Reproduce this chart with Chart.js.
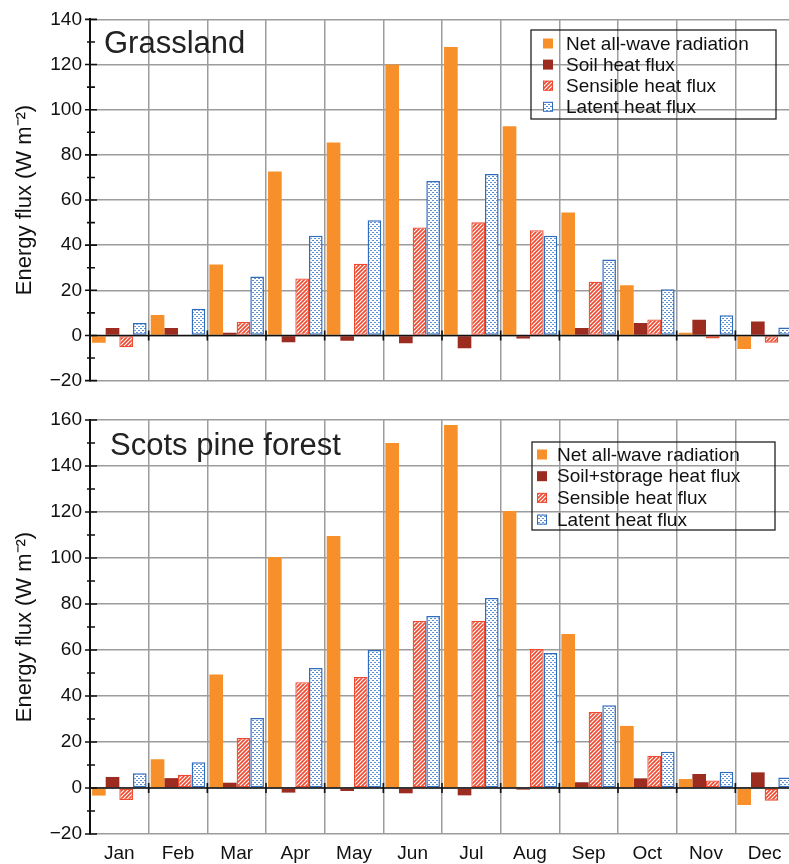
<!doctype html>
<html lang="en">
  <head>
    <meta charset="UTF-8" />
    <title>Energy fluxes: grassland vs Scots pine forest</title>
    <script src="https://cdn.jsdelivr.net/npm/chart.js"></script>
    <style>
      body { margin: 0; overflow: hidden; background: #fff; }
      canvas { position: absolute; left: 0; }
    </style>
  </head>
  <body>
    <canvas id="grassChart" width="800" height="400" style="top: 0"></canvas>
    <canvas id="forestChart" width="800" height="464" style="top: 400px"></canvas>

    <script>
      // data (W m-2)
      var months = ["Jan", "Feb", "Mar", "Apr", "May", "Jun", "Jul", "Aug", "Sep", "Oct", "Nov", "Dec"];

      var grassLabels = ["Net all-wave radiation", "Soil heat flux", "Sensible heat flux", "Latent heat flux"];
      var grassNet = [-3.2, 9.1, 31.4, 72.6, 85.5, 120, 127.8, 92.7, 54.5, 22.2, 1.2, -6];
      var grassSoil = [3.3, 3.3, 1.2, -3, -2.3, -3.5, -5.7, -1.3, 3.3, 5.5, 7, 6.2];
      var grassSens = [-5.2, -0.3, 6, 25.2, 31.8, 47.8, 50.1, 46.6, 23.8, 7.1, -1.3, -3.2];
      var grassLat = [5.5, 11.8, 26.1, 44.2, 51, 68.4, 71.5, 44.2, 33.6, 20.5, 9, 3.5];

      var forestLabels = ["Net all-wave radiation", "Soil+storage heat flux", "Sensible heat flux", "Latent heat flux"];
      var forestNet = [-3.3, 12.5, 49.3, 100.4, 109.6, 150, 157.8, 120.4, 67, 27, 3.9, -7.4];
      var forestSoil = [4.8, 4.3, 2.3, -2, -1.3, -2.3, -3.2, -0.7, 2.5, 4.2, 6.1, 6.8];
      var forestSens = [-5.2, 5.8, 21.7, 46, 48.3, 72.6, 72.6, 60.4, 33, 14, 3.3, -5.5];
      var forestLat = [6.4, 11.2, 30.4, 52.2, 60, 74.8, 82.6, 58.7, 36, 15.8, 7.1, 4.6];

      var FONT = "'Liberation Sans', Arial, Helvetica, sans-serif";
      var ORANGE = "#f7902b";
      var DARKRED = "#9c2b20";
      var RED = "#ef4a30";
      var BLUE = "#2f6cbd";
      var GRID = "#9c9c9c";

      // hatch for sensible heat
      function makeHatch() {
        var c = document.createElement("canvas");
        c.width = 4;
        c.height = 4;
        var g = c.getContext("2d");
        g.fillStyle = "#fff";
        g.fillRect(0, 0, 4, 4);
        g.strokeStyle = RED;
        g.lineWidth = 1.7;
        g.beginPath();
        g.moveTo(0, 4); g.lineTo(4, 0);
        g.moveTo(-1, 1); g.lineTo(1, -1);
        g.moveTo(3, 5); g.lineTo(5, 3);
        g.stroke();
        return g.createPattern(c, "repeat");
      }

      // small dots for latent heat
      function makeDots() {
        var c = document.createElement("canvas");
        c.width = 4;
        c.height = 4;
        var g = c.getContext("2d");
        g.fillStyle = "#fff";
        g.fillRect(0, 0, 4, 4);
        g.fillStyle = "#5f90d2";
        g.fillRect(0, 0, 2, 1);
        g.fillRect(2, 2, 2, 1);
        return g.createPattern(c, "repeat");
      }

      var hatch = makeHatch();
      var dots = makeDots();

      // axis ticks, zero line, panel title and legend box
      var decoPlugin = {
        id: "deco",
        afterDatasetsDraw: function (chart, args, opts) {
          var ctx = chart.ctx;
          var area = chart.chartArea;
          var x = chart.scales.x;
          var y = chart.scales.y;
          ctx.save();

          // zero line with month separators
          var y0 = y.getPixelForValue(0);
          ctx.strokeStyle = "#111";
          ctx.lineWidth = 1.6;
          ctx.beginPath();
          ctx.moveTo(area.left, y0);
          ctx.lineTo(area.right, y0);
          for (var i = 1; i < months.length; i++) {
            var xb = (x.getPixelForValue(i - 1) + x.getPixelForValue(i)) / 2;
            ctx.moveTo(xb, y0 - 5);
            ctx.lineTo(xb, y0 + 5);
          }
          ctx.stroke();

          // major / minor ticks on the y axis
          ctx.lineWidth = 1.6;
          ctx.beginPath();
          for (var v = y.min; v <= y.max; v += 10) {
            var py = y.getPixelForValue(v);
            var major = v % 20 === 0;
            ctx.moveTo(area.left - (major ? 5 : 3), py);
            ctx.lineTo(area.left + (major ? 7 : 5), py);
          }
          ctx.stroke();

          // panel title
          ctx.fillStyle = "#222";
          ctx.font = "31px " + FONT;
          ctx.textBaseline = "alphabetic";
          ctx.fillText(opts.title, opts.titleX, opts.titleY);

          // legend
          var b = opts.box;
          ctx.strokeStyle = "#222";
          ctx.lineWidth = 1.3;
          ctx.strokeRect(b[0], b[1], b[2], b[3]);
          ctx.font = "19px " + FONT;
          ctx.textBaseline = "middle";
          chart.data.datasets.forEach(function (ds, k) {
            var cy = opts.rowY + k * opts.rowGap;
            ctx.fillStyle = ds.backgroundColor;
            ctx.fillRect(opts.swatchX, cy - 5, 10, 10);
            if (ds.borderWidth) {
              ctx.strokeStyle = ds.borderColor;
              ctx.lineWidth = 1;
              ctx.strokeRect(opts.swatchX + 0.5, cy - 4.5, 9, 9);
            }
            ctx.fillStyle = "#111";
            ctx.fillText(ds.label, opts.textX, cy + 1);
          });
          ctx.restore();
        },
      };

      function datasets(labels, net, soil, sens, lat) {
        return [
          { label: labels[0], data: net, backgroundColor: ORANGE, borderWidth: 0 },
          { label: labels[1], data: soil, backgroundColor: DARKRED, borderWidth: 0 },
          { label: labels[2], data: sens, backgroundColor: hatch, borderColor: RED, borderWidth: 1.3, borderSkipped: false },
          { label: labels[3], data: lat, backgroundColor: dots, borderColor: BLUE, borderWidth: 1.5, borderSkipped: false },
        ];
      }

      function options(ymin, ymax, xHeight, showX, padTop, deco) {
        return {
          responsive: false,
          animation: false,
          layout: { padding: { left: 0, right: 6, top: padTop, bottom: 0 } },
          datasets: { bar: { categoryPercentage: 0.93, barPercentage: 1.0 } },
          plugins: { legend: { display: false }, tooltip: { enabled: false }, deco: deco },
          scales: {
            x: {
              grid: { color: GRID, lineWidth: 1.5, offset: true, drawTicks: false },
              border: { display: false },
              ticks: { display: showX, color: "#111", font: { family: FONT, size: 19 }, padding: 8, maxRotation: 0, autoSkip: false },
              afterFit: function (s) { s.height = xHeight; },
            },
            y: {
              min: ymin,
              max: ymax,
              grid: { color: GRID, lineWidth: 1.5, drawTicks: false },
              border: { display: true, color: "#111", width: 2 },
              ticks: {
                stepSize: 20,
                color: "#111",
                padding: 8,
                font: { family: FONT, size: 19 },
                callback: function (v) { return String(v).replace("-", "\u2212"); },
              },
              title: {
                display: true,
                text: "Energy flux (W m\u207B\u00B2)",
                color: "#111",
                font: { family: FONT, size: 22 },
                padding: { top: 12, bottom: 0 },
              },
              afterFit: function (s) { s.width = 90; },
            },
          },
        };
      }

      var grassChart = new Chart(document.getElementById("grassChart").getContext("2d"), {
        type: "bar",
        data: { labels: months, datasets: datasets(grassLabels, grassNet, grassSoil, grassSens, grassLat) },
        options: options(-20, 140, 17, false, 16, {
          title: "Grassland", titleX: 104, titleY: 53,
          box: [531, 30, 245, 89], rowY: 43.5, rowGap: 21.1, swatchX: 543, textX: 566,
        }),
        plugins: [decoPlugin],
      });

      var forestChart = new Chart(document.getElementById("forestChart").getContext("2d"), {
        type: "bar",
        data: { labels: months, datasets: datasets(forestLabels, forestNet, forestSoil, forestSens, forestLat) },
        options: options(-20, 160, 30, true, 20, {
          title: "Scots pine forest", titleX: 110, titleY: 55,
          box: [532, 42, 243, 88], rowY: 54.5, rowGap: 21.7, swatchX: 537, textX: 557,
        }),
        plugins: [decoPlugin],
      });
    </script>
  </body>
</html>
